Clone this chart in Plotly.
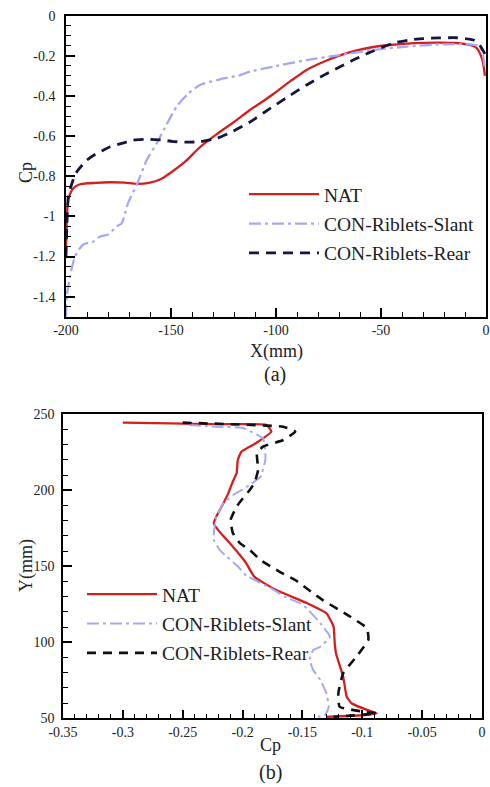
import plotly.graph_objects as go

# ---------------- data: panel (a) Cp vs X(mm) ----------------
nat_a_x = [-200, -199.7, -199.3, -198.5, -196.5, -193.3, -186, -179, -172, -166.3, -160, -155, -150.5,
           -143, -136.2, -128.2, -120, -112.4, -106, -101.3, -93, -85.4, -77, -69.5, -62, -53.7, -46,
           -37.8, -30, -21.9, -14, -7.6, -4.5, -2.9, -1.5, -0.5]
nat_a_cp = [-1.15, -1.05, -0.95, -0.90, -0.86, -0.84, -0.833, -0.83, -0.832, -0.838, -0.832, -0.815, -0.785,
            -0.725, -0.655, -0.59, -0.53, -0.47, -0.425, -0.39, -0.325, -0.27, -0.228, -0.198, -0.174,
            -0.156, -0.146, -0.139, -0.135, -0.134, -0.136, -0.146, -0.16, -0.187, -0.23, -0.30]

slant_a_x = [-200, -199.7, -198.1, -195.7, -191.8, -187, -183.8, -179.9, -175.9, -173.5, -170.5, -166,
             -161.6, -156.8, -152, -147.3, -142, -136.2, -127, -117.1, -112.4, -101.3, -85.4, -69.5,
             -53.7, -37.8, -21.9, -7.6, -4, -2, -0.5]
slant_a_cp = [-1.5, -1.40, -1.30, -1.20, -1.14, -1.126, -1.10, -1.09, -1.05, -1.035, -0.935, -0.835,
              -0.72, -0.636, -0.54, -0.453, -0.39, -0.345, -0.318, -0.296, -0.279, -0.254, -0.221, -0.196,
              -0.171, -0.154, -0.143, -0.143, -0.15, -0.17, -0.27]

rear_a_x = [-200, -199.6, -199.2, -198.9, -197, -195, -190.1, -186, -182.2, -179, -173, -168, -160, -154,
            -148.9, -142, -136.2, -128.2, -120.3, -112.4, -106, -101.3, -93, -85.4, -77, -69.5, -62,
            -53.7, -44.1, -37, -29.8, -22, -14, -6, -3.5, -2, -0.5]
rear_a_cp = [-1.2, -1.05, -0.95, -0.90, -0.83, -0.78, -0.72, -0.69, -0.67, -0.653, -0.635, -0.62, -0.616,
             -0.62, -0.627, -0.63, -0.628, -0.611, -0.575, -0.53, -0.485, -0.452, -0.395, -0.345, -0.295,
             -0.255, -0.215, -0.176, -0.137, -0.122, -0.114, -0.111, -0.11, -0.121, -0.14, -0.163, -0.19]

# ---------------- data: panel (b) Y(mm) vs Cp ----------------
nat_b_cp = [-0.300, -0.26, -0.22, -0.180, -0.176, -0.189, -0.201, -0.204, -0.205, -0.208, -0.212, -0.217,
            -0.222, -0.224, -0.219, -0.213, -0.205, -0.197, -0.19, -0.172, -0.146, -0.130, -0.124, -0.123,
            -0.122, -0.116, -0.113, -0.109, -0.096, -0.088, -0.10, -0.13]
nat_b_y = [244.5, 244, 243.5, 243, 238.6, 230.9, 225.4, 219.9, 211.2, 206, 198, 190,
           182.6, 178.3, 172.5, 167.3, 160, 152, 143, 134.4, 125.7, 119.1, 110.3, 99.3,
           92.8, 77.4, 64.2, 59.9, 55.5, 53.3, 52, 51]

slant_b_cp = [-0.245, -0.222, -0.20, -0.183, -0.181, -0.181, -0.185, -0.198, -0.208, -0.216, -0.222,
              -0.224, -0.224, -0.219, -0.213, -0.204, -0.197, -0.175, -0.165, -0.15, -0.135, -0.127,
              -0.135, -0.141, -0.144, -0.141, -0.135, -0.130, -0.128, -0.131, -0.137]
slant_b_y = [243, 241.8, 241, 234.2, 225.4, 219.9, 209, 201.5, 196.9, 191.4, 182.6,
             171.7, 167.3, 160.7, 156.3, 150, 144, 135, 130, 125, 112.5, 103.7,
             97.1, 94.9, 88.4, 81.8, 75.2, 66.4, 57.6, 52.2, 51]

rear_b_cp = [-0.250, -0.21, -0.166, -0.156, -0.166, -0.183, -0.188, -0.187, -0.190, -0.194, -0.202,
             -0.205, -0.210, -0.208, -0.202, -0.194, -0.185, -0.169, -0.155, -0.141, -0.133, -0.110,
             -0.096, -0.095, -0.106, -0.116, -0.120, -0.119, -0.100, -0.088, -0.105, -0.124]
rear_b_y = [244.5, 243.5, 241.8, 238.6, 233.1, 228.7, 224.3, 213.4, 205, 200.2, 192.5,
            189.2, 180.5, 171.7, 165.1, 160.7, 154.1, 146.4, 140.5, 132.2, 127.8, 116.8,
            109.2, 101.5, 89.5, 79.6, 66.4, 57.6, 54.5, 53.3, 52, 51]

series_names = ["NAT", "CON-Riblets-Slant", "CON-Riblets-Rear"]

# tick labels
a_x_ticks = [-200, -150, -100, -50, 0]
a_x_text = ["-200", "-150", "-100", "-50", "0"]
a_y_ticks = [0, -0.2, -0.4, -0.6, -0.8, -1, -1.2, -1.4]
a_y_text = ["0", "-0.2", "-0.4", "-0.6", "-0.8", "-1", "-1.2", "-1.4"]
b_x_ticks = [-0.35, -0.3, -0.25, -0.2, -0.15, -0.1, -0.05, 0]
b_x_text = ["-0.35", "-0.3", "-0.25", "-0.2", "-0.15", "-0.1", "-0.05", "0"]
b_y_ticks = [50, 100, 150, 200, 250]
b_y_text = ["50", "100", "150", "200", "250"]

# ---------------- styling ----------------
FONT = "Liberation Serif"
RED = "#d21f1f"
SLANT = "#a6a8f4"
NAVY = "#15153f"
BLACK = "#111111"
W, H = 490, 787

fig = go.Figure()


def add(x, y, name, color, width, dash, xa, ya, leg, group, smooth):
    fig.add_trace(go.Scatter(
        x=x, y=y, mode="lines", name=name, legendgroup=group,
        line=dict(color=color, width=width, dash=dash, shape="spline", smoothing=smooth),
        xaxis=xa, yaxis=ya, legend=leg))


add(nat_a_x, nat_a_cp, series_names[0], RED, 2.3, "solid", "x", "y", "legend", "a1", 0.6)
add(slant_a_x, slant_a_cp, series_names[1], SLANT, 2.3, "12px,4px,3px,4px", "x", "y", "legend", "a2", 0.6)
add(rear_a_x, rear_a_cp, series_names[2], NAVY, 2.8, "10px,7px", "x", "y", "legend", "a3", 0.6)

add(nat_b_cp, nat_b_y, series_names[0], RED, 2.3, "solid", "x2", "y2", "legend2", "b1", 0.4)
add(slant_b_cp, slant_b_y, series_names[1], SLANT, 2.0, "12px,4px,3px,4px", "x2", "y2", "legend2", "b2", 0.4)
add(rear_b_cp, rear_b_y, series_names[2], BLACK, 2.6, "9px,7px", "x2", "y2", "legend2", "b3", 0.4)


def px_x(p):
    return p / W


def px_y(p):
    return (H - p) / H


common = dict(showline=True, linecolor="black", linewidth=1.6, mirror=True, showgrid=False,
              zeroline=False, ticks="inside", ticklen=9, tickwidth=2, tickcolor="black",
              automargin=False, tickfont=dict(family=FONT, size=14, color="#222"))


def minor(d):
    return dict(ticks="inside", tickmode="linear", tick0=0, dtick=d, ticklen=5,
                tickwidth=1, tickcolor="black")


fig.update_layout(
    width=W, height=H, margin=dict(l=0, r=0, t=0, b=0, autoexpand=False),
    paper_bgcolor="white", plot_bgcolor="white",
    font=dict(family=FONT, color="#222"),
    xaxis=dict(domain=[px_x(66), px_x(486)], range=[-200, 0], anchor="y", ticklabelstandoff=0,
               tickmode="array", tickvals=a_x_ticks, ticktext=a_x_text, minor=minor(10), **common),
    yaxis=dict(domain=[px_y(316.7), px_y(15.7)], range=[-1.5, 0], anchor="x", ticklabelstandoff=6,
               tickmode="array", tickvals=a_y_ticks, ticktext=a_y_text, minor=minor(0.05), **common),
    xaxis2=dict(domain=[px_x(63), px_x(482)], range=[-0.35, 0], anchor="y2", ticklabelstandoff=0,
                tickmode="array", tickvals=b_x_ticks, ticktext=b_x_text, minor=minor(0.01), **common),
    yaxis2=dict(domain=[px_y(718.3), px_y(414.3)], range=[50, 250], anchor="x2", ticklabelstandoff=4,
                tickmode="array", tickvals=b_y_ticks, ticktext=b_y_text, minor=minor(10), **common),
    legend=dict(x=px_x(244), y=px_y(175), xanchor="left", yanchor="top",
                bgcolor="rgba(0,0,0,0)", font=dict(family=FONT, size=19.5, color="#222"),
                itemwidth=70, tracegroupgap=1),
    legend2=dict(x=px_x(82), y=px_y(575), xanchor="left", yanchor="top",
                 bgcolor="rgba(0,0,0,0)", font=dict(family=FONT, size=19.5, color="#222"),
                 itemwidth=70, tracegroupgap=1),
    showlegend=True,
)

ann_font = dict(family=FONT, size=18, color="#222")
annotations = [
    dict(text="Cp", x=px_x(26), y=px_y(173), textangle=-90),
    dict(text="X(mm)", x=px_x(276), y=px_y(351)),
    dict(text="(a)", x=px_x(275), y=px_y(375), font=dict(family=FONT, size=20, color="#222")),
    dict(text="Y(mm)", x=px_x(26), y=px_y(566), textangle=-90),
    dict(text="Cp", x=px_x(270), y=px_y(745)),
    dict(text="(b)", x=px_x(270), y=px_y(772), font=dict(family=FONT, size=20, color="#222")),
]
for a in annotations:
    a.setdefault("font", ann_font)
    fig.add_annotation(xref="paper", yref="paper", xanchor="center", yanchor="middle",
                       showarrow=False, **a)

fig.write_html("out.html")
